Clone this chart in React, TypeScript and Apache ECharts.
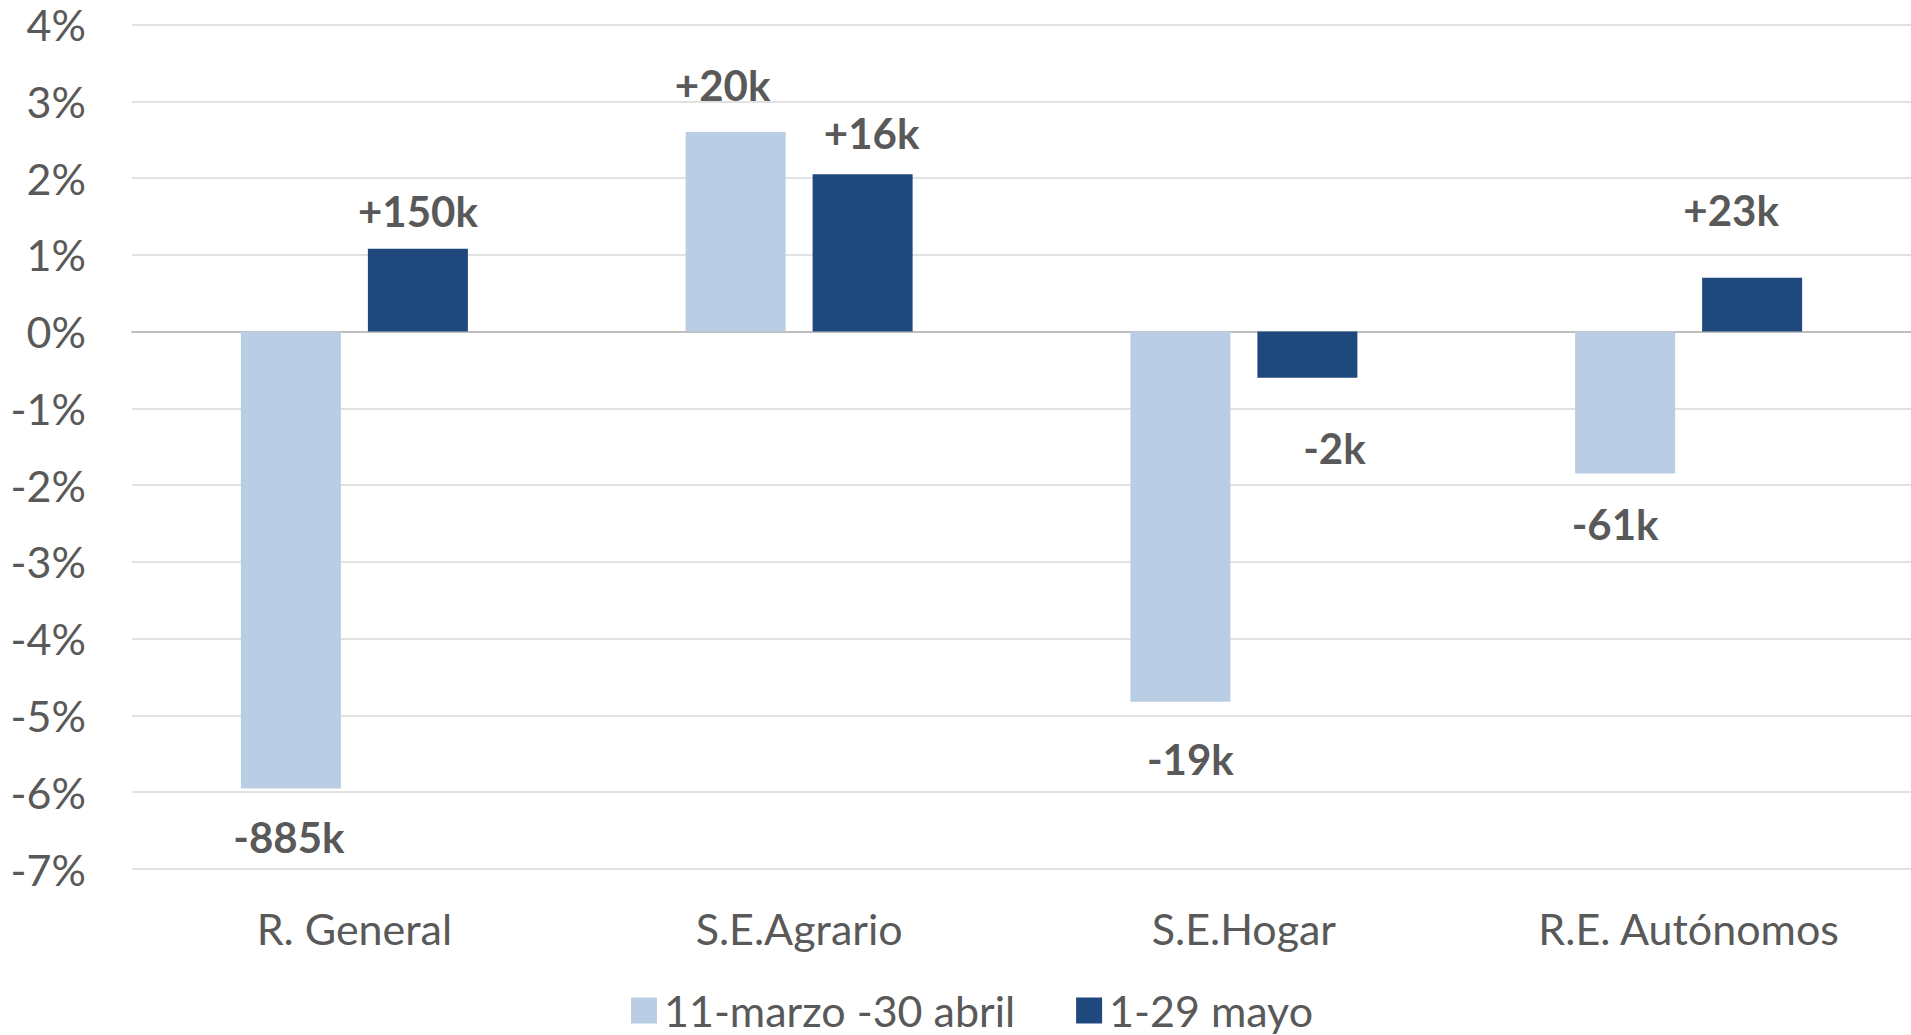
import React, { useEffect, useRef } from "react";
import * as echarts from "echarts";

const categories = ["R. General", "S.E.Agrario", "S.E.Hogar", "R.E. Autónomos"];
const seriesNames = ["11-marzo -30 abril", "1-29 mayo"];
const marchAprilValues = [-5.95, 2.6, -4.82, -1.85];
const mayValues = [1.08, 2.05, -0.6, 0.7];
const marchAprilLabels = ["-885k", "+20k", "-19k", "-61k"];
const mayLabels = ["+150k", "+16k", "-2k", "+23k"];
const yTicks = { min: -7, max: 4, interval: 1 };

// label placement tweaks (style only)
const marchAprilLabelDist = [28, 26, 36, 29];
const marchAprilLabelDx = [-2, -13, 10, -10];
const mayLabelDist = [17, 20, 49, 47];
const mayLabelDx = [0, 9, 27, -21];

const FONT = "Lato, 'Open Sans', sans-serif";
const TEXT = "#595959";

function buildData(values: number[], labels: string[], dist: number[], dx: number[]) {
  return values.map((v, i) => ({
    value: v,
    label: {
      show: true,
      position: v >= 0 ? "top" : "bottom",
      distance: dist[i],
      offset: [dx[i], 0],
      formatter: labels[i],
    },
  }));
}

export default function App() {
  const ref = useRef<HTMLDivElement>(null);
  useEffect(() => {
    document.body.style.margin = "0";
    const chart = echarts.init(ref.current!, undefined, { renderer: "svg" });
    const labelStyle = {
      fontFamily: FONT,
      fontSize: 42,
      fontWeight: "bold",
      color: TEXT,
    };
    chart.setOption({
      animation: false,
      backgroundColor: "#ffffff",
      grid: { left: 132, right: 0, top: 24.5, bottom: 166, containLabel: false },
      legend: {
        data: seriesNames,
        left: 626,
        top: 984,
        icon: "rect",
        itemWidth: 26,
        itemHeight: 26,
        itemGap: 61,
        textStyle: { fontFamily: FONT, fontSize: 43, color: TEXT, padding: [0, 0, 0, 2] },
      },
      xAxis: {
        type: "category",
        data: categories,
        axisLine: { show: true, onZero: true, lineStyle: { color: "#bfbfbf", width: 2 } },
        axisTick: { show: false },
        axisLabel: {
          fontFamily: FONT,
          fontSize: 43,
          color: TEXT,
          margin: 38,
          interval: 0,
        },
        position: "bottom",
      },
      yAxis: {
        type: "value",
        min: yTicks.min,
        max: yTicks.max,
        interval: yTicks.interval,
        axisLine: { show: false },
        axisTick: { show: false },
        splitLine: { lineStyle: { color: "#d9d9d9", width: 1.5 } },
        axisLabel: {
          fontFamily: FONT,
          fontSize: 43,
          color: TEXT,
          margin: 46,
          formatter: "{value}%",
        },
      },
      series: [
        {
          name: seriesNames[0],
          type: "bar",
          barWidth: 100,
          barGap: "27%",
          itemStyle: { color: "#b9cde5" },
          label: labelStyle,
          data: buildData(marchAprilValues, marchAprilLabels, marchAprilLabelDist, marchAprilLabelDx),
        },
        {
          name: seriesNames[1],
          type: "bar",
          barWidth: 100,
          barGap: "27%",
          itemStyle: { color: "#1f497d" },
          label: labelStyle,
          data: buildData(mayValues, mayLabels, mayLabelDist, mayLabelDx),
        },
      ],
    });
    return () => chart.dispose();
  }, []);
  return (
    <div
      ref={ref}
      style={{ position: "fixed", left: 0, top: 0, width: 1911, height: 1035 }}
    />
  );
}
